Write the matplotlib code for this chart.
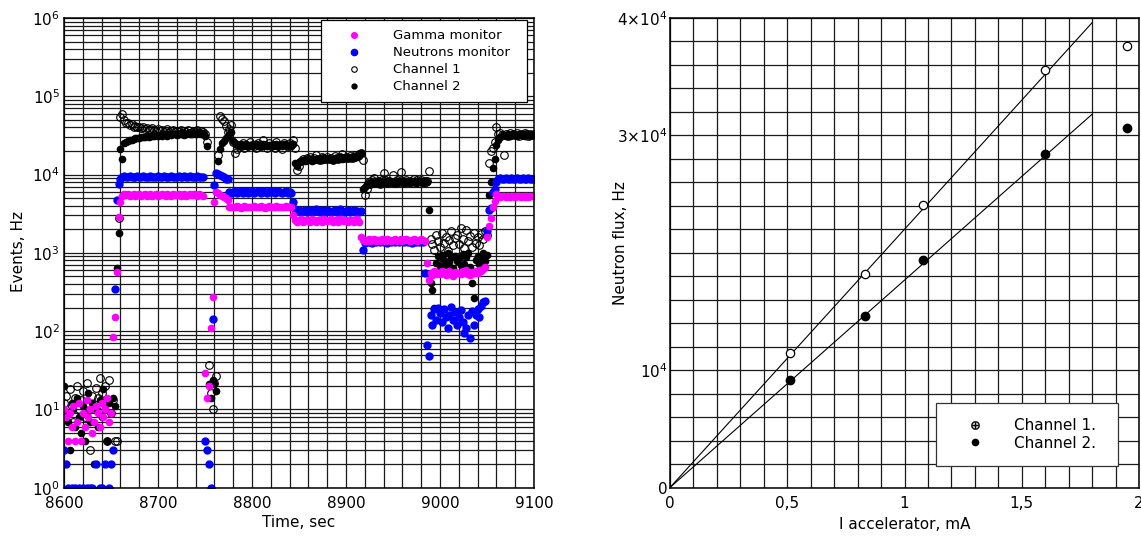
import numpy as np
import matplotlib.pyplot as plt
from matplotlib.lines import Line2D
from matplotlib.ticker import MultipleLocator, LogLocator, NullFormatter, FuncFormatter

nan = np.nan

# left panel: count rates sampled every 2 s, 8600 ... 9100 s
time_s = np.arange(8600, 9101, 2)

gamma_hz = [
    10, 8, 4, 9, 6, 11, 4, 7, 12, 4,                                  # 8600
    9, 6, 13, 8, 10, 5, 7, 11, 9, 6,                                  # 8620
    12, 8, 10, 14, 7, 9, 84, 150, 570, 2900,                          # 8640
    4500, 5400, 5600, 5500, 5700, 5400, 5500, 5600, 5300, 5500,       # 8660
    5600, 5400, 5500, 5700, 5300, 5500, 5600, 5400, 5500, 5600,       # 8680
    5400, 5500, 5700, 5500, 5300, 5600, 5500, 5400, 5600, 5500,       # 8700
    5500, 5700, 5400, 5500, 5600, 5300, 5500, 5600, 5500, 5700,       # 8720
    5500, 5400, 5600, 5500, 5400, 29, 14, 20, 110, 275,               # 8740
    4500, 6000, 5800, 5500, 5300, 5100, 5000, 4800, 3800, 3900,       # 8760
    3900, 3800, 4000, 3900, 3700, 3900, 4000, 3800, 3900, 3900,       # 8780
    3800, 4000, 3900, 3900, 3800, 4000, 3900, 3700, 3900, 4000,       # 8800
    3900, 3800, 3900, 4000, 3800, 3900, 3900, 3800, 4000, 3900,       # 8820
    3900, 3800, 3000, 2600, 2500, 2600, 2700, 2500, 2600, 2650,       # 8840
    2600, 2500, 2700, 2600, 2500, 2650, 2600, 2500, 2700, 2600,       # 8860
    2550, 2600, 2700, 2500, 2600, 2600, 2500, 2700, 2600, 2550,       # 8880
    2600, 2500, 2650, 2600, 2500, 2600, 2700, 2450, 1600, 1450,       # 8900
    1400, 1450, 1500, 1400, 1450, 1500, 1400, 1450, 1400, 1500,       # 8920
    1450, 1400, 1500, 1450, 1400, 1450, 1500, 1400, 1450, 1500,       # 8940
    1400, 1450, 1500, 1450, 1400, 1450, 1500, 1450, 1400, 1450,       # 8960
    1500, 1450, 1400, 750, 450, 560, 520, 580, 540, 560,              # 8980
    530, 580, 550, 520, 560, 590, 540, 510, 570, 550,                 # 9000
    560, 530, 580, 550, 600, 540, 520, 570, 550, 590,                 # 9020
    560, 600, 580, 620, 650, 1580, 2200, 2750, 3900, 4600,            # 9040
    5600, 5300, 5200, 5400, 5300, 5100, 5300, 5200, 5400, 5300,       # 9060
    5200, 5300, 5400, 5200, 5300, 5100, 5300, 5200, 5400, 5300,       # 9080
    5300,                                                             # 9100
]

neutron_hz = [
    3, 2, 1, nan, 1, nan, 1, nan, 1, nan,
    1, nan, 1, nan, 1, 1, nan, 2, nan, 1,
    1, nan, 2, nan, 1, 2, 3, 350, 4700, 7600,
    8700, 9300, 9500, 9200, 9400, 9600, 9300, 9400, 9200, 9500,
    9300, 9400, 9600, 9200, 9400, 9300, 9500, 9400, 9200, 9400,
    9500, 9300, 9400, 9600, 9300, 9400, 9200, 9500, 9400, 9300,
    9400, 9500, 9300, 9400, 9600, 9300, 9400, 9500, 9300, 9400,
    9300, 9500, 9400, 9300, 9400, 4, 3, 2, 1, 142,
    7400, 10600, 10300, 10000, 9600, 9200, 8900, 8700, 6000, 5900,
    6000, 6100, 5900, 6000, 6200, 5900, 6000, 6100, 5900, 6000,
    6100, 5900, 6000, 6200, 6000, 5900, 6100, 6000, 5900, 6100,
    6000, 6100, 5900, 6000, 6100, 6000, 5800, 6000, 6100, 5900,
    6000, 5800, 4400, 3600, 3400, 3500, 3300, 3400, 3500, 3300,
    3400, 3500, 3300, 3400, 3600, 3400, 3300, 3500, 3400, 3300,
    3500, 3400, 3300, 3400, 3500, 3300, 3400, 3600, 3400, 3300,
    3400, 3500, 3300, 3400, 3500, 3300, 3400, 3300, 3400, 1100,
    1350, 1400, 1380, 1420, 1350, 1400, 1380, 1420, 1360, 1400,
    1380, 1420, 1350, 1400, 1380, 1420, 1360, 1400, 1380, 1410,
    1400, 1360, 1420, 1380, 1400, 1350, 1410, 1380, 1400, 1370,
    1400, 1380, 550, 66, 48, 160, 120, 190, 140, 200,
    170, 130, 190, 150, 110, 160, 205, 140, 175, 120,
    150, 185, 130, 95, 110, 160, 81, 180, 120, 160,
    190, 150, 210, 237, 240, 1900, 3500, 3700, 6000, 6600,
    8000, 8800, 9000, 8900, 8700, 9000, 8900, 8800, 9100, 8900,
    8800, 9000, 8900, 8700, 9000, 8900, 8800, 9000, 8900, 8800,
    8900,
]

channel1_hz = [
    12, 15, 9, 18, 11, 7, 14, 20, 10, 13,
    17, 8, 22, 12, 3, 15, 10, 19, 14, 25,
    16, 11, 20, 4, 24, 9, 13, 4, 4, 2800,
    55000, 60000, 50000, 45000, 46000, 43000, 44000, 41000, 42000, 40000,
    41000, 39000, 40000, 38000, 39000, 37000, 38000, 39000, 37000, 36000,
    38000, 36000, 37000, 35000, 36000, 38000, 35000, 36000, 37000, 35000,
    36000, 35000, 37000, 34000, 36000, 35000, 37000, 34000, 35000, 36000,
    35000, 37000, 34000, 36000, 35000, 33000, 26000, 37, 16, 10,
    22, 27, 18000, 56000, 52000, 49000, 42000, 35000, 38000, 43000,
    26000, 19000, 21000, 24000, 23000, 25000, 22000, 24000, 23000, 26000,
    24000, 23000, 22000, 25000, 24000, 23000, 28000, 24000, 22000, 25000,
    23000, 24000, 22000, 26000, 23000, 24000, 21000, 25000, 24000, 23000,
    25000, 24000, 28000, 22000, 11400, 12700, 15000, 16000, 15500, 16500,
    16000, 17000, 15500, 16500, 18000, 16000, 15500, 17000, 16500, 16000,
    17000, 16000, 16500, 15500, 17500, 16500, 16000, 17000, 18500, 16500,
    17000, 16500, 17500, 16500, 17000, 18000, 17500, 18500, 19000, 15500,
    5500, 6600, 8000, 7500, 8500, 9000, 7800, 8200, 7600, 8400,
    10400, 8600, 7700, 8300, 8000, 9900, 7900, 8500, 8100, 10700,
    8200, 7800, 8600, 8000, 8300, 7700, 8800, 8100, 8400, 7900,
    8500, 8000, 8300, 8200, 11000, 1500, 1300, 1100, 1700, 1400,
    1200, 1800, 1350, 1600, 1050, 1450, 1900, 1250, 1550, 1700,
    1300, 2100, 1500, 1150, 1950, 1400, 1650, 1200, 1800, 1350,
    1600, 1250, 1750, 1500, 1900, 1700, 14000, 20000, 22000, 26000,
    40000, 33000, 34000, 32000, 18000, 33000, 31000, 34000, 32000, 33000,
    32000, 34000, 31000, 33000, 32000, 34000, 33000, 31000, 33000, 32000,
    33000,
]

channel2_hz = [
    20, 9, 7, 3, 12, 10, 6, 14, 8, 5,
    11, 4, 9, 16, 7, 12, 2, 10, 6, 13,
    8, 18, 10, 4, 12, 9, 14, 11, 640, 1800,
    21000, 16000, 25000, 26000, 27000, 27500, 28000, 28500, 29000, 29500,
    29000, 30000, 30500, 30000, 31000, 30500, 31000, 31500, 31000, 32000,
    31500, 32000, 31000, 32500, 32000, 31500, 33000, 32000, 32500, 33000,
    32000, 33000, 32500, 33500, 32000, 33000, 33500, 32500, 33000, 34000,
    33000, 34000, 33500, 33000, 34000, 31000, 23000, 21, 14, 24,
    21, 17, 15000, 21000, 25000, 27000, 29000, 31000, 33000, 35000,
    27000, 25000, 24000, 23500, 24500, 23000, 24000, 24500, 23500, 24000,
    23500, 24000, 24500, 23000, 24000, 23500, 24500, 24000, 23000, 24000,
    24000, 23500, 24000, 24500, 23000, 24000, 23500, 24500, 24000, 23500,
    24000, 23500, 24500, 14000, 13000, 14500, 15000, 15500, 15000, 15500,
    15500, 16000, 15000, 15500, 16000, 15500, 16000, 15500, 16500, 16000,
    16000, 16500, 16000, 15500, 16500, 16000, 16500, 17000, 16000, 16500,
    16500, 17000, 16500, 17000, 16500, 17500, 17000, 17500, 18700, 6500,
    7000, 7500, 7800, 7600, 8000, 7700, 7900, 8100, 7800, 8000,
    7900, 8100, 7800, 8200, 8000, 7900, 8100, 7800, 8200, 8000,
    8100, 7900, 8200, 8000, 7800, 8100, 8200, 7900, 8000, 8100,
    8000, 8200, 7900, 8100, 3500, 410, 340, 199, 750, 900,
    680, 950, 820, 700, 1000, 760, 880, 640, 920, 780,
    850, 700, 960, 720, 880, 1000, 650, 417, 265, 800,
    900, 720, 850, 1000, 780, 950, 5500, 8000, 12000, 16000,
    24000, 28000, 30000, 31000, 32000, 31500, 32500, 31000, 32000, 33000,
    32000, 31500, 32500, 32000, 33000, 31500, 32000, 32500, 31000, 32000,
    32000,
]

# right panel: neutron flux vs accelerator current
current_mA = [0.51, 0.83, 1.08, 1.60, 1.95]
flux_ch1 = [11500, 18200, 24100, 35600, 37600]
flux_ch2 = [9200, 14600, 19400, 28400, 30600]
fit_current = [0, 1.8]
fit_ch1 = [0, 39600]
fit_ch2 = [0, 31800]

plt.rcParams['font.family'] = 'DejaVu Sans'
plt.rcParams['mathtext.default'] = 'regular'

W, H = 1141, 536
fig = plt.figure(figsize=(W / 100, H / 100), dpi=100)
ax1 = fig.add_axes([64 / W, 48.3 / H, 470 / W, 469.7 / H])
ax2 = fig.add_axes([670 / W, 48.5 / H, 469 / W, 469.5 / H])

grid_kw = dict(color='#1a1a1a', linewidth=0.9)

# ---- left: events vs time ----
ax1.set_yscale('log')
ax1.set_xlim(8600, 9100)
ax1.set_ylim(1, 1e6)
ax1.xaxis.set_major_locator(MultipleLocator(100))
ax1.xaxis.set_minor_locator(MultipleLocator(20))
ax1.yaxis.set_major_locator(LogLocator(base=10, numticks=10))
ax1.yaxis.set_minor_locator(LogLocator(base=10, subs=np.arange(2, 10), numticks=20))
ax1.yaxis.set_minor_formatter(NullFormatter())
ax1.yaxis.set_major_formatter(FuncFormatter(lambda v, p: '$10^{%d}$' % round(np.log10(v))))
ax1.grid(which='both', **grid_kw)
ax1.set_axisbelow(True)
ax1.tick_params(which='both', length=0, labelsize=11)
ax1.tick_params(axis='x', pad=6)
ax1.tick_params(axis='y', pad=3)

ax1.plot(time_s, channel2_hz, ls='none', marker='o', ms=4.5, color='black')
ax1.plot(time_s, channel1_hz, ls='none', marker='o', ms=5.5, mfc='none', mec='black', mew=0.8)
ax1.plot(time_s, neutron_hz, ls='none', marker='o', ms=5, color='#0000ff')
ax1.plot(time_s, gamma_hz, ls='none', marker='o', ms=4.5, color='#ff00ff')

ax1.set_xlabel('Time, sec', fontsize=11)
ax1.set_ylabel('Events, Hz', fontsize=11)
ax1.xaxis.set_label_coords(0.5, -0.058)
ax1.yaxis.set_label_coords(-0.081, 0.502)

h1 = [
    Line2D([], [], ls='none', marker='o', ms=4, color='#ff00ff', label='Gamma monitor'),
    Line2D([], [], ls='none', marker='o', ms=4.5, color='#0000ff', label='Neutrons monitor'),
    Line2D([], [], ls='none', marker='o', ms=4, mfc='none', mec='black', mew=0.8, label='Channel 1'),
    Line2D([], [], ls='none', marker='o', ms=3.5, color='black', label='Channel 2'),
]
leg1 = ax1.legend(handles=h1, loc='upper left', bbox_to_anchor=(0.546, 0.9957, 0.439, 0),
                  mode='expand', borderaxespad=0, borderpad=0.7, handlelength=3.6,
                  handletextpad=1.2, labelspacing=0.3, fontsize=9.5, fancybox=False,
                  framealpha=1, edgecolor='black')
leg1.get_frame().set_linewidth(0.9)

# ---- right: flux vs current ----
ax2.set_xlim(0, 2)
ax2.set_ylim(0, 40000)
ax2.set_xticks([0, 0.5, 1, 1.5, 2])
ax2.set_xticklabels(['0', '0,5', '1', '1,5', '2'])
ax2.xaxis.set_minor_locator(MultipleLocator(0.1))
ax2.set_yticks([0, 10000, 30000, 40000])
ax2.set_yticklabels(['0', '$10^4$', r'$3{\times}10^4$', r'$4{\times}10^4$'])
ax2.yaxis.set_minor_locator(MultipleLocator(2000))
ax2.grid(which='both', **grid_kw)
ax2.set_axisbelow(True)
ax2.tick_params(which='both', length=0, labelsize=11)
ax2.tick_params(axis='x', pad=6)
ax2.tick_params(axis='y', pad=2)

ax2.plot(fit_current, fit_ch1, color='black', lw=0.8)
ax2.plot(fit_current, fit_ch2, color='black', lw=0.8)
ax2.plot(current_mA, flux_ch1, ls='none', marker='o', ms=6, mfc='white', mec='black', mew=0.9)
ax2.plot(current_mA, flux_ch2, ls='none', marker='o', ms=6, color='black')

ax2.set_xlabel('I accelerator, mA', fontsize=11)
ax2.set_ylabel('Neutron flux, Hz', fontsize=11)
ax2.xaxis.set_label_coords(0.501, -0.063)
ax2.yaxis.set_label_coords(-0.0896, 0.52)

h2 = [
    Line2D([], [], ls='none', marker=r'$\oplus$', ms=6, mew=0.3, color='black', label='Channel 1.'),
    Line2D([], [], ls='none', marker='o', ms=4.5, color='black', label='Channel 2.'),
]
leg2 = ax2.legend(handles=h2, loc='upper left', bbox_to_anchor=(0.5665, 0.18, 0.3885, 0),
                  mode='expand', borderaxespad=0, borderpad=1.0, handlelength=3.2,
                  handletextpad=0.9, labelspacing=0.15, fontsize=11, fancybox=False,
                  framealpha=1, edgecolor='#333333')
leg2.get_frame().set_linewidth(0.9)

for ax in (ax1, ax2):
    for s in ax.spines.values():
        s.set_linewidth(1.1)
        s.set_color('black')

fig.savefig('out.png', dpi=100)
